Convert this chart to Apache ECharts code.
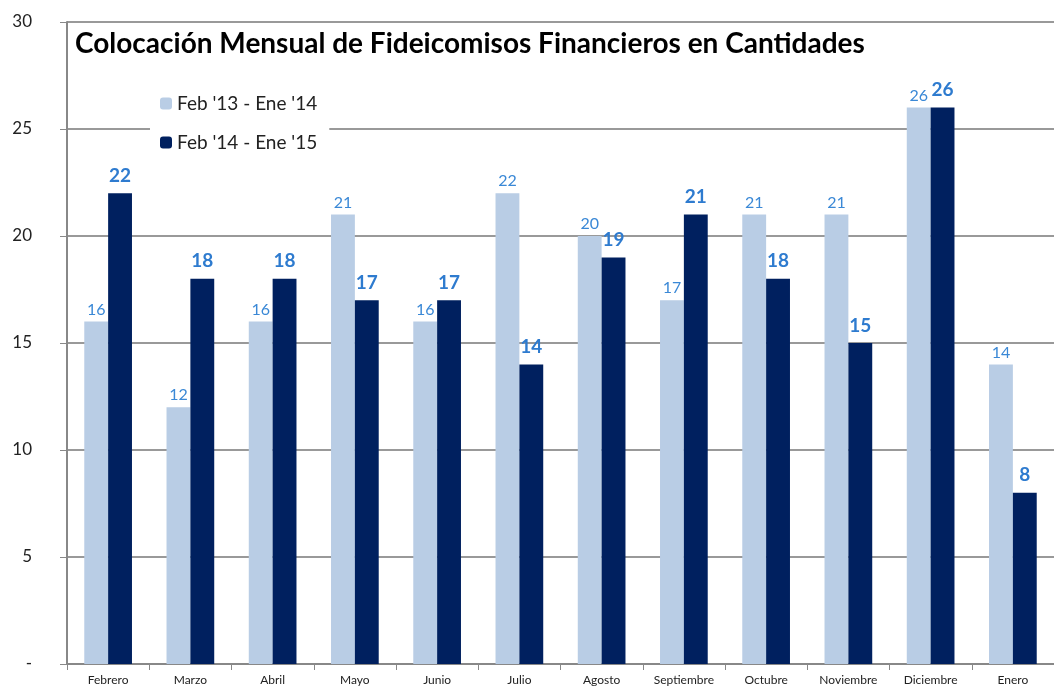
<!DOCTYPE html>
<html>
<head>
<meta charset="utf-8">
<script src="https://cdn.jsdelivr.net/npm/echarts@6/dist/echarts.min.js"></script>
<style>
  html, body { margin: 0; padding: 0; background: #fff; }
  #main { width: 1054px; height: 691px; }
</style>
</head>
<body>
<div id="main"></div>
<script>
var meses = ['Febrero', 'Marzo', 'Abril', 'Mayo', 'Junio', 'Julio', 'Agosto', 'Septiembre', 'Octubre', 'Noviembre', 'Diciembre', 'Enero'];
var serie1314 = [16, 12, 16, 21, 16, 22, 20, 17, 21, 21, 26, 14];
var serie1415 = [22, 18, 18, 17, 17, 14, 19, 21, 18, 15, 26, 8];
var nombres = ["Feb '13 - Ene '14", "Feb '14 - Ene '15"];

var myChart = echarts.init(document.getElementById('main'));
myChart.setOption({
    animation: false,
    textStyle: { fontFamily: 'Lato' },
    title: {
        text: 'Colocación Mensual de Fideicomisos Financieros en Cantidades',
        left: 70,
        top: 25,
        textStyle: { fontFamily: 'Lato', fontSize: 28, fontWeight: 'bold', color: '#000' }
    },
    legend: {
        data: nombres,
        orient: 'vertical',
        left: 150,
        top: 88,
        padding: [6, 12, 6, 10],
        backgroundColor: '#fff',
        itemWidth: 12,
        itemHeight: 12,
        itemGap: 20,
        textStyle: { fontFamily: 'Lato', fontSize: 19, color: '#222' }
    },
    grid: { left: 67, top: 22, bottom: 27, right: -12, containLabel: false },
    xAxis: {
        type: 'category',
        data: meses,
        axisLine: { lineStyle: { color: '#888', width: 2 } },
        axisTick: { show: true, length: 6, lineStyle: { color: '#888' } },
        axisLabel: { fontFamily: 'Lato', fontSize: 12, color: '#222', margin: 10 }
    },
    yAxis: {
        type: 'value',
        min: 0,
        max: 30,
        interval: 5,
        axisLine: { show: true, lineStyle: { color: '#888', width: 2 } },
        axisTick: { show: true, length: 7, lineStyle: { color: '#888' } },
        splitLine: { lineStyle: { color: '#999', width: 2 } },
        axisLabel: {
            fontFamily: 'Lato', fontSize: 17, color: '#222', margin: 35, align: 'right',
            formatter: function (v) { return v === 0 ? '-' : v; }
        }
    },
    series: [{
        name: nombres[0],
        type: 'bar',
        data: serie1314,
        barGap: '0%',
        barCategoryGap: '42%',
        itemStyle: { color: '#B9CDE5' },
        label: { show: true, position: 'top', distance: 4, fontFamily: 'Lato', fontSize: 16, color: '#3A88D6' }
    }, {
        name: nombres[1],
        type: 'bar',
        data: serie1415,
        itemStyle: { color: '#00205F' },
        label: { show: true, position: 'top', distance: 8, fontFamily: 'Lato', fontSize: 19, fontWeight: 'bold', color: '#2E7BCF' }
    }]
});
</script>
</body>
</html>
